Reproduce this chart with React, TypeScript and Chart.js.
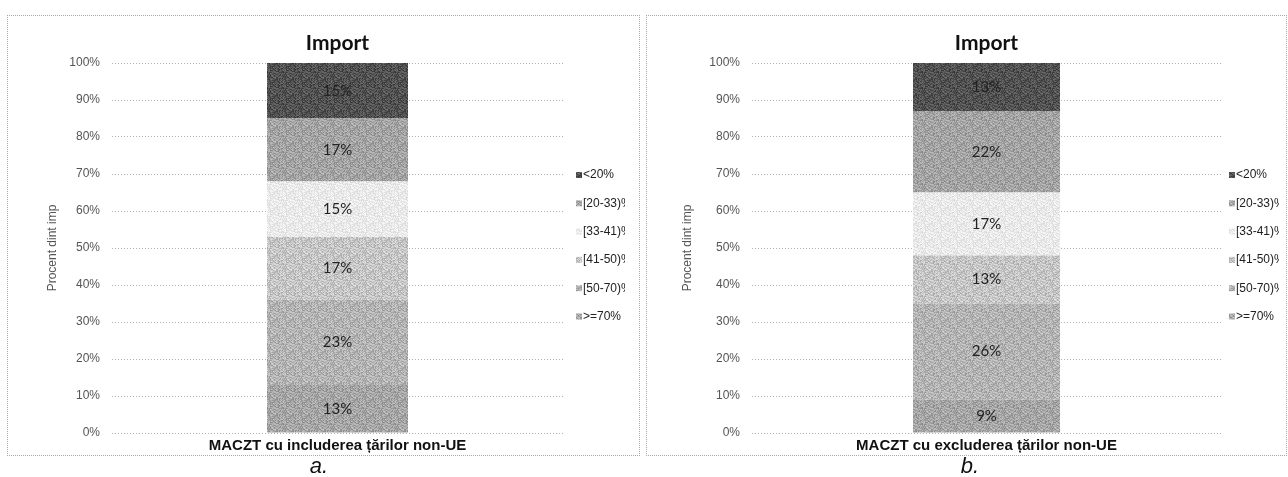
import React, { useEffect, useRef } from "react";
import { Chart, registerables } from "chart.js";
Chart.register(...registerables);

// Series (bottom of stack first)
const seriesLabels = [">=70%", "[50-70)%", "[41-50)%", "[33-41)%", "[20-33)%", "<20%"];
const valuesA = [13, 23, 17, 15, 17, 15];
const valuesB = [9, 26, 13, 17, 22, 13];
const categoryA = ["MACZT cu includerea țărilor non-UE"];
const categoryB = ["MACZT cu excluderea țărilor non-UE"];
const chartTitle = "Import";
const yAxisTitle = "Procent dint imp";
const yMin = 0;
const yMax = 100;
const yStep = 10;
const seriesColors = ["#a6a6a6", "#b4b4b4", "#c6c6c6", "#eaeaea", "#a4a4a4", "#525252"];

function clamp(v: number) {
  return Math.max(0, Math.min(255, Math.round(v)));
}

// deterministic stipple texture (hash based) to mimic the halftone print
function makePattern(hex: string): CanvasPattern | string {
  const size = 16;
  const pc = document.createElement("canvas");
  pc.width = size;
  pc.height = size;
  const ctx = pc.getContext("2d");
  if (!ctx) return hex;
  const n = parseInt(hex.slice(1), 16);
  const base = (n >> 16) & 255;
  const img = ctx.createImageData(size, size);
  for (let y = 0; y < size; y++) {
    for (let x = 0; x < size; x++) {
      const h = (((x * 374761393) ^ (y * 668265263)) >>> 0) * 2654435761 >>> 0;
      const t = ((h >>> 13) % 61) - 30; // -30..30
      const amp = base > 220 ? 0.6 : 1;
      const v = clamp(base + t * amp);
      const k = (y * size + x) * 4;
      img.data[k] = v;
      img.data[k + 1] = v;
      img.data[k + 2] = v;
      img.data[k + 3] = 255;
    }
  }
  ctx.putImageData(img, 0, 0);
  const p = ctx.createPattern(pc, "repeat");
  return p || hex;
}

type PanelCfg = {
  left: number; top: number; width: number; height: number;
  padLeft: number; yWidth: number; padRight: number; padTop: number; padBottom: number;
  barFrac: number; yTitleX: number; tickPad: number;
  titleY: number; catY: number;
  legMarkerX: number; legTextX: number; legClipX: number; legTop: number; legStep: number;
  caption: string; captionX: number;
};

function Panel({ values, category, cfg }: { values: number[]; category: string[]; cfg: PanelCfg }) {
  const ref = useRef<HTMLCanvasElement | null>(null);
  useEffect(() => {
    if (!ref.current) return;
    const patterns = seriesColors.map((c) => makePattern(c));
    const plugin = {
      id: "decor",
      afterDatasetsDraw(chart: any) {
        const ctx = chart.ctx as CanvasRenderingContext2D;
        const area = chart.chartArea;
        ctx.save();
        // data labels
        ctx.font = "15px Lato, 'Liberation Sans', Arial, sans-serif";
        ctx.fillStyle = "#222";
        ctx.textAlign = "center";
        ctx.textBaseline = "middle";
        chart.data.datasets.forEach((ds: any, i: number) => {
          const el = chart.getDatasetMeta(i).data[0];
          if (!el) return;
          const cy = (el.y + el.base) / 2;
          ctx.fillText(ds.data[0] + "%", el.x, cy);
        });
        const barEl = chart.getDatasetMeta(0).data[0];
        const cx = barEl ? barEl.x : (area.left + area.right) / 2;
        // title
        ctx.font = "bold 21px Lato, 'Liberation Sans', Arial, sans-serif";
        ctx.fillStyle = "#111";
        ctx.fillText(chartTitle, cx, cfg.titleY);
        // category label
        ctx.font = "bold 15px 'Liberation Sans', Arial, sans-serif";
        ctx.fillStyle = "#111";
        ctx.fillText(chart.data.labels[0], cx, cfg.catY);
        // y axis title
        ctx.save();
        ctx.translate(cfg.yTitleX, (area.top + area.bottom) / 2);
        ctx.rotate(-Math.PI / 2);
        ctx.font = "12px 'Liberation Sans', Arial, sans-serif";
        ctx.fillStyle = "#555";
        ctx.fillText(yAxisTitle, 0, 0);
        ctx.restore();
        // legend (top of stack first)
        ctx.beginPath();
        ctx.rect(0, 0, cfg.legClipX, chart.height);
        ctx.clip();
        ctx.font = "12px 'Liberation Sans', Arial, sans-serif";
        ctx.textAlign = "left";
        const n = chart.data.datasets.length;
        for (let k = 0; k < n; k++) {
          const i = n - 1 - k;
          const ds = chart.data.datasets[i];
          const y = cfg.legTop + k * cfg.legStep;
          ctx.fillStyle = ds.backgroundColor;
          ctx.fillRect(cfg.legMarkerX, y - 3, 6, 6);
          ctx.fillStyle = "#222";
          ctx.fillText(ds.label, cfg.legTextX, y);
        }
        ctx.restore();
      },
    };
    const chart = new Chart(ref.current, {
      type: "bar",
      data: {
        labels: category,
        datasets: seriesLabels.map((lab, i) => ({
          label: lab,
          data: [values[i]],
          backgroundColor: patterns[i] as any,
          borderWidth: 0,
          barPercentage: 1,
          categoryPercentage: cfg.barFrac,
        })),
      },
      options: {
        animation: false,
        responsive: false,
        maintainAspectRatio: false,
        layout: { padding: { left: cfg.padLeft, right: cfg.padRight, top: cfg.padTop, bottom: cfg.padBottom } },
        plugins: { legend: { display: false }, title: { display: false }, tooltip: { enabled: false } },
        scales: {
          x: { stacked: true, display: false },
          y: {
            stacked: true,
            min: yMin,
            max: yMax,
            afterFit: (s: any) => { s.width = cfg.yWidth; },
            ticks: {
              stepSize: yStep,
              padding: cfg.tickPad,
              color: "#555",
              font: { family: "'Liberation Sans', Arial, sans-serif", size: 12 },
              callback: (v: any) => v + "%",
            },
            grid: { color: "#b0b0b0", drawTicks: false, lineWidth: 1 },
            border: { display: false, dash: [1, 2] },
          },
        },
      } as any,
      plugins: [plugin],
    });
    return () => chart.destroy();
  }, [values, category, cfg]);

  return (
    <>
      <div
        style={{
          position: "absolute", left: cfg.left, top: cfg.top, width: cfg.width, height: cfg.height,
          border: "1px dotted #a8a8a8", boxSizing: "border-box",
        }}
      />
      <canvas
        ref={ref}
        width={cfg.width}
        height={cfg.height}
        style={{ position: "absolute", left: cfg.left, top: cfg.top, width: cfg.width, height: cfg.height }}
      />
      <div
        style={{
          position: "absolute", left: cfg.captionX - 30, width: 60, top: 453, textAlign: "center",
          fontFamily: "'Liberation Sans', Arial, sans-serif", fontStyle: "italic", fontSize: 22, color: "#111",
          lineHeight: "25px",
        }}
      >
        {cfg.caption}
      </div>
    </>
  );
}

const cfgA: PanelCfg = {
  left: 7, top: 15, width: 633, height: 441,
  padLeft: 20, yWidth: 85, padRight: 77, padTop: 48, padBottom: 23,
  barFrac: 0.3126, yTitleX: 46, tickPad: 12,
  titleY: 28, catY: 431,
  legMarkerX: 569, legTextX: 576, legClipX: 618, legTop: 160, legStep: 28.3,
  caption: "a.", captionX: 319,
};
const cfgB: PanelCfg = {
  left: 646, top: 15, width: 641, height: 441,
  padLeft: 20, yWidth: 86, padRight: 66, padTop: 48, padBottom: 23,
  barFrac: 0.3134, yTitleX: 42, tickPad: 12,
  titleY: 28, catY: 431,
  legMarkerX: 583, legTextX: 590, legClipX: 633, legTop: 160, legStep: 28.3,
  caption: "b.", captionX: 970,
};

export default function App() {
  return (
    <div style={{ position: "fixed", left: 0, top: 0, width: 1288, height: 477, background: "#fff", overflow: "hidden" }}>
      <Panel values={valuesA} category={categoryA} cfg={cfgA} />
      <Panel values={valuesB} category={categoryB} cfg={cfgB} />
    </div>
  );
}
